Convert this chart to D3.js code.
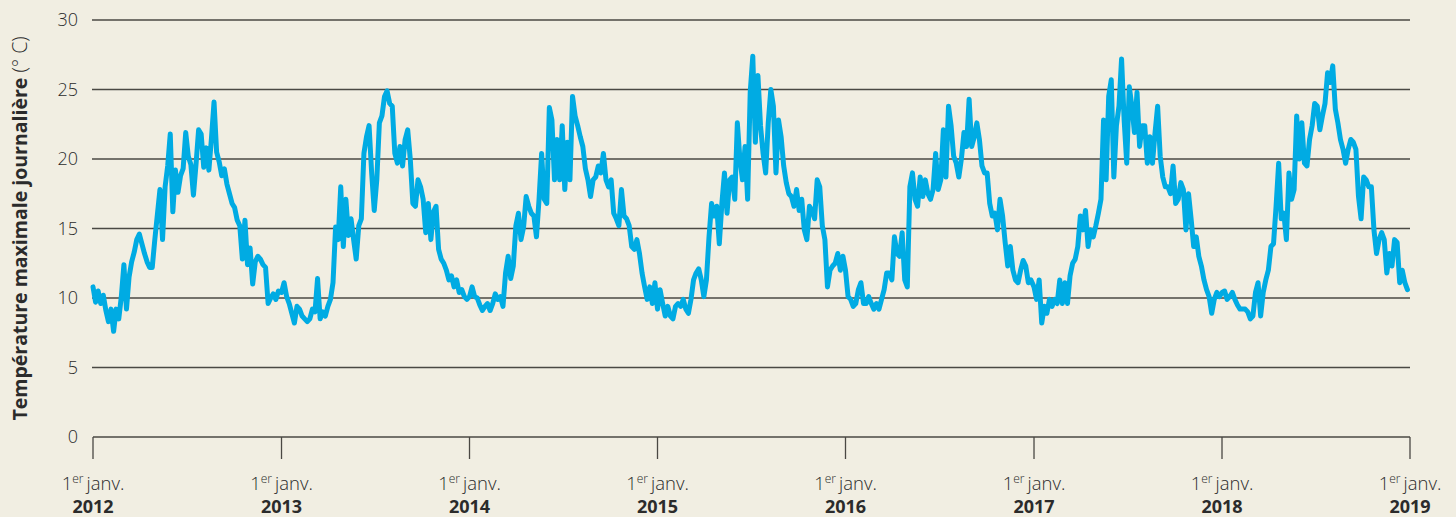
<!DOCTYPE html>
<html>
<head>
<meta charset="utf-8">
<script src="https://cdn.jsdelivr.net/npm/d3@7"></script>
<style>
  html, body { margin: 0; padding: 0; background: #f1eee2; }
  svg { display: block; }
  text { font-family: "Open Sans", "Noto Sans", sans-serif; fill: #2b2b2b; }
</style>
</head>
<body>
<div id="chart"></div>
<script>
// Max daily temperature, one value every 5 days from 1 Jan of each year
const STEP_DAYS = 5;
const YEARS = [2012, 2013, 2014, 2015, 2016, 2017, 2018];

const t2012 = [10.8, 9.7, 10.5, 9.6, 10.2, 9.1, 8.3, 9.2, 7.6, 9.2, 8.5, 10.1, 12.4, 9.2, 11.5, 12.6, 13.3, 14.2, 14.6, 13.9,
  13.2, 12.6, 12.2, 12.2, 14.2, 16.0, 17.8, 14.2, 18.0, 19.5, 21.8, 16.2, 19.2, 17.6, 18.8, 19.3, 21.9, 20.2, 19.6, 17.4,
  19.6, 22.1, 21.8, 19.4, 20.8, 19.2, 21.5, 24.1, 20.5, 19.8, 18.8, 19.3, 18.2, 17.5, 16.8, 16.5, 15.6, 15.2, 12.8, 15.6,
  12.4, 13.6, 11.0, 12.6, 13.0, 12.8, 12.4, 12.2, 9.6, 10.0, 10.3, 9.9, 10.5];
const t2013 = [10.4, 11.1, 10.1, 9.6, 8.9, 8.2, 9.4, 9.2, 8.7, 8.5, 8.3, 8.5, 9.2, 9.0, 11.4, 8.5, 9.0, 8.7, 9.4, 9.9,
  11.1, 15.1, 14.2, 18.0, 13.7, 17.1, 14.5, 15.7, 14.2, 12.8, 15.2, 15.7, 20.4, 21.6, 22.4, 19.0, 16.3, 18.5, 22.6, 23.1,
  24.5, 24.9, 24.0, 23.8, 20.4, 19.7, 20.9, 19.5, 21.4, 22.1, 20.0, 16.8, 16.6, 18.5, 18.0, 17.1, 14.7, 16.8, 14.2, 16.2,
  16.6, 13.5, 12.8, 12.5, 12.0, 11.3, 11.6, 10.8, 11.3, 10.4, 10.6, 10.1, 9.9];
const t2014 = [10.1, 10.8, 10.1, 10.0, 9.5, 9.1, 9.4, 9.6, 9.1, 9.6, 10.3, 9.9, 10.1, 9.4, 11.8, 13.0, 11.4, 12.3, 15.2, 16.1,
  14.2, 15.1, 17.3, 16.6, 16.1, 15.9, 14.4, 17.1, 20.4, 17.1, 16.8, 23.7, 22.8, 18.5, 21.4, 18.5, 22.4, 17.8, 21.2, 18.5,
  24.5, 23.1, 22.4, 21.6, 20.9, 19.3, 18.5, 17.3, 18.5, 18.7, 19.5, 19.0, 20.4, 18.5, 18.0, 18.5, 16.1, 15.7, 15.2, 17.8,
  15.9, 15.7, 15.2, 13.7, 13.5, 14.2, 13.2, 11.8, 10.8, 9.9, 10.8, 9.6, 11.1];
const t2015 = [9.2, 10.6, 9.6, 8.7, 9.4, 8.7, 8.5, 9.4, 9.6, 9.4, 9.9, 9.2, 8.9, 9.9, 11.3, 11.8, 12.1, 11.3, 10.1, 11.3,
  14.4, 16.8, 15.9, 16.6, 13.9, 16.8, 19.0, 16.1, 18.5, 18.7, 17.1, 22.6, 20.0, 18.5, 20.9, 17.1, 24.8, 27.4, 21.2, 26.0,
  22.4, 20.4, 19.0, 22.6, 25.0, 23.8, 19.0, 22.8, 21.6, 19.5, 18.3, 17.5, 17.3, 16.6, 17.8, 16.3, 17.1, 14.9, 14.2, 16.6,
  16.3, 15.7, 18.5, 18.0, 15.2, 14.2, 10.8, 12.0, 12.3, 12.5, 13.2, 12.0, 13.0];
const t2016 = [12.0, 10.1, 9.9, 9.4, 9.6, 10.6, 11.1, 9.6, 9.6, 10.1, 9.6, 9.2, 9.6, 9.2, 9.9, 10.6, 11.8, 11.8, 11.3, 14.4,
  13.2, 13.0, 14.7, 11.3, 10.8, 18.0, 19.0, 17.1, 16.6, 18.7, 17.3, 18.5, 17.5, 17.1, 17.8, 20.4, 17.8, 18.5, 22.1, 18.7,
  23.8, 22.4, 20.2, 19.7, 18.7, 20.0, 21.9, 20.9, 24.3, 20.9, 21.6, 22.6, 21.4, 19.5, 19.0, 19.0, 16.8, 15.9, 16.1, 14.9,
  17.1, 15.9, 14.0, 12.3, 13.7, 12.0, 11.3, 11.1, 12.0, 12.7, 12.3, 11.1, 11.3];
const t2017 = [10.8, 9.9, 11.3, 8.2, 9.4, 8.9, 9.9, 9.4, 9.9, 9.6, 11.3, 9.6, 11.1, 9.6, 11.6, 12.5, 12.8, 13.7, 15.9, 14.9,
  16.3, 13.7, 14.9, 14.4, 15.2, 16.1, 17.1, 22.8, 18.5, 24.5, 25.7, 18.7, 22.4, 23.8, 27.2, 22.8, 19.7, 25.2, 23.8, 21.9,
  24.8, 20.9, 22.4, 22.4, 19.7, 21.6, 19.7, 21.9, 23.8, 20.2, 18.7, 18.0, 18.0, 17.5, 19.5, 16.8, 17.1, 18.3, 17.8, 14.9,
  17.5, 15.7, 13.7, 14.4, 13.0, 12.3, 11.3, 10.6, 10.1, 8.9, 9.9, 10.4, 10.1];
const t2018 = [10.4, 10.5, 9.9, 10.1, 10.4, 9.9, 9.5, 9.2, 9.2, 9.2, 9.0, 8.5, 8.7, 10.4, 11.1, 8.7, 10.4, 11.3, 12.0, 13.7,
  13.9, 16.6, 19.7, 15.7, 16.1, 14.2, 19.0, 17.1, 17.8, 23.1, 20.0, 22.6, 19.7, 19.5, 21.4, 22.4, 24.0, 23.8, 22.1, 23.1,
  24.0, 26.2, 25.5, 26.7, 23.6, 22.6, 21.4, 20.7, 19.7, 20.7, 21.4, 21.2, 20.7, 17.3, 15.7, 18.7, 18.5, 18.0, 18.0, 14.9,
  13.2, 14.2, 14.7, 14.2, 11.8, 13.2, 12.3, 14.2, 14.0, 11.1, 12.0, 11.1, 10.6];

const SERIES = [t2012, t2013, t2014, t2015, t2016, t2017, t2018];
const Y_TICKS = [0, 5, 10, 15, 20, 25, 30];
const X_TICK_YEARS = [2012, 2013, 2014, 2015, 2016, 2017, 2018, 2019];
const Y_TITLE = 'Température maximale journalière';
const Y_UNIT = '(° C)';

const data = [];
YEARS.forEach((yr, k) => {
  SERIES[k].forEach((v, i) => {
    data.push({ date: new Date(Date.UTC(yr, 0, 1 + i * STEP_DAYS)), value: v });
  });
});

const W = 1456, H = 517;
const margin = { left: 93, right: 46, top: 20, bottom: 80 };

const svg = d3.select('#chart').append('svg')
  .attr('width', W).attr('height', H);

const x = d3.scaleUtc()
  .domain([new Date(Date.UTC(2012, 0, 1)), new Date(Date.UTC(2019, 0, 1))])
  .range([margin.left, W - margin.right]);
const y = d3.scaleLinear().domain([0, 30]).range([H - margin.bottom, margin.top]);

// Grid lines
svg.append('g').selectAll('line')
  .data(Y_TICKS.filter(d => d > 0))
  .join('line')
  .attr('x1', margin.left - 1).attr('x2', W - margin.right)
  .attr('y1', d => y(d)).attr('y2', d => y(d))
  .attr('stroke', '#4a4843').attr('stroke-width', 1.3);

// Y tick labels
svg.append('g').selectAll('text')
  .data(Y_TICKS)
  .join('text')
  .attr('x', 78).attr('y', d => y(d))
  .attr('dy', '0.36em')
  .attr('text-anchor', 'end')
  .attr('font-size', 18).attr('font-weight', 300)
  .text(d => d);

// Bottom axis
const xAxis = svg.append('g');
xAxis.append('line')
  .attr('x1', margin.left).attr('x2', W - margin.right)
  .attr('y1', y(0)).attr('y2', y(0))
  .attr('stroke', '#4a4843').attr('stroke-width', 1.3);

const ticks = xAxis.selectAll('g.tick')
  .data(X_TICK_YEARS)
  .join('g').attr('class', 'tick')
  .attr('transform', d => `translate(${x(new Date(Date.UTC(d, 0, 1)))},0)`);

ticks.append('line')
  .attr('y1', y(0)).attr('y2', y(0) + 22)
  .attr('stroke', '#4a4843').attr('stroke-width', 1.3);

const lab = ticks.append('text')
  .attr('y', 490).attr('text-anchor', 'middle')
  .attr('font-size', 18.5).attr('font-weight', 300);
lab.append('tspan').text('1');
lab.append('tspan').attr('font-size', 12).attr('dy', -7).text('er');
lab.append('tspan').attr('dy', 7).text('\u2009janv.');

ticks.append('text')
  .attr('y', 513).attr('text-anchor', 'middle')
  .attr('font-size', 18).attr('font-weight', 700)
  .text(d => d);

// Y title
const yt = svg.append('text')
  .attr('transform', `translate(27,${(y(0) + y(30)) / 2}) rotate(-90)`)
  .attr('text-anchor', 'middle')
  .attr('font-size', 19.5);
yt.append('tspan').attr('font-weight', 700).text(Y_TITLE + ' ');
yt.append('tspan').attr('font-weight', 300).text(Y_UNIT);

// Temperature line
const line = d3.line()
  .x(d => x(d.date))
  .y(d => y(d.value));

svg.append('path')
  .datum(data)
  .attr('d', line)
  .attr('fill', 'none')
  .attr('stroke', '#00abe3')
  .attr('stroke-width', 5)
  .attr('stroke-linejoin', 'round')
  .attr('stroke-linecap', 'round');
</script>
</body>
</html>
